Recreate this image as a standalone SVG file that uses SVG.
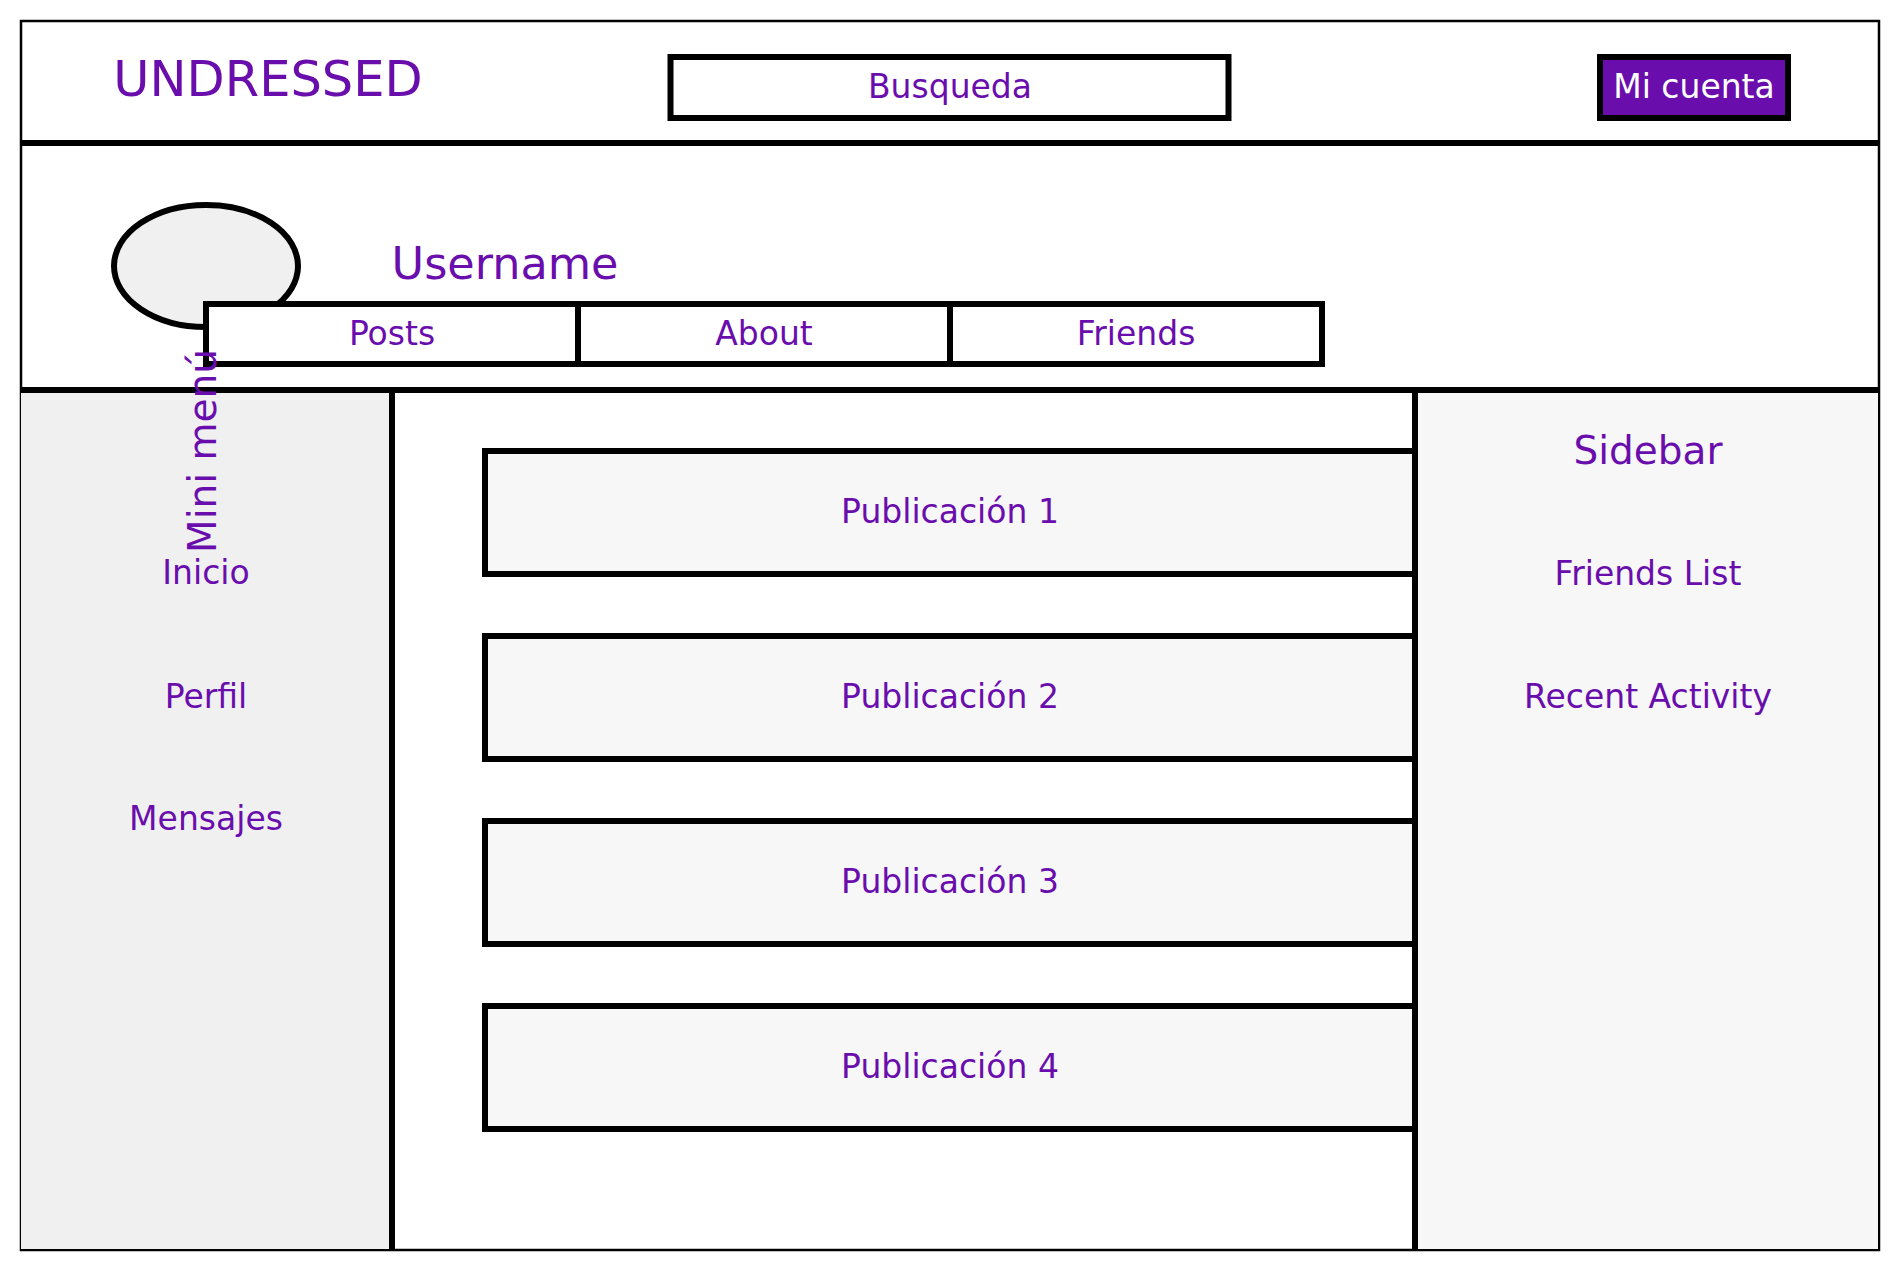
<svg xmlns="http://www.w3.org/2000/svg" width="1900" height="1272" viewBox="0 0 1900 1272">
<style>
  text { font-family: "DejaVu Sans", "Liberation Sans", sans-serif; fill: #6a0dad; text-anchor: middle; }
  .sm { font-size: 33px; }
  .box { stroke: #000; stroke-width: 6; }
  .line { stroke: #000; stroke-width: 6; fill: none; }
  .white { fill: #ffffff; }
  .grey { fill: #f0f0f0; }
  .light { fill: #f7f7f7; }
</style>
<rect x="0" y="0" width="1900" height="1272" fill="#ffffff"/>
<g id="page">
  <rect x="21" y="21" width="1858" height="1229" fill="#ffffff" stroke="#000" stroke-width="2.5"/>
</g>
<g id="left-panel">
  <rect x="21" y="390" width="371" height="859" class="grey"/>
</g>
<g id="right-panel">
  <rect x="1415" y="390" width="463" height="859" class="light"/>
</g>
<g id="connectors">
  <line x1="20" y1="143" x2="1880" y2="143" class="line"/>
  <line x1="20" y1="390" x2="1880" y2="390" class="line"/>
  <line x1="392" y1="390" x2="392" y2="1250" class="line"/>
  <line x1="1415" y1="390" x2="1415" y2="1250" class="line"/>
</g>
<g id="logo">
  <text x="268" y="96" style="font-size:49.5px">UNDRESSED</text>
</g>
<g id="busqueda">
  <rect x="670.5" y="57" width="558" height="61" class="box white"/>
  <text x="950" y="98" class="sm">Busqueda</text>
</g>
<g id="mi-cuenta">
  <rect x="1600" y="57" width="188" height="61" class="box" fill="#6a0dad"/>
  <text x="1694" y="98" class="sm" style="fill:#ffffff">Mi cuenta</text>
</g>
<g id="avatar">
  <ellipse cx="206" cy="266" rx="92" ry="61" class="box grey"/>
</g>
<g id="username">
  <text x="505" y="279" style="font-size:44.5px">Username</text>
</g>
<g id="tab-posts">
  <rect x="206" y="304" width="372" height="60" class="box white"/>
  <text x="392" y="345" class="sm">Posts</text>
</g>
<g id="tab-about">
  <rect x="578" y="304" width="372" height="60" class="box white"/>
  <text x="764" y="345" class="sm">About</text>
</g>
<g id="tab-friends">
  <rect x="950" y="304" width="372" height="60" class="box white"/>
  <text x="1136" y="345" class="sm">Friends</text>
</g>
<g id="mini-menu">
  <text transform="translate(216,451) rotate(-90)" style="font-size:39px">Mini menú</text>
  <text x="206" y="584" class="sm">Inicio</text>
  <text x="206" y="708" class="sm">Perfil</text>
  <text x="206" y="830" class="sm">Mensajes</text>
</g>
<g id="post-1">
  <rect x="485" y="451" width="930" height="123" class="box light"/>
  <text x="950" y="523" class="sm">Publicación 1</text>
</g>
<g id="post-2">
  <rect x="485" y="636" width="930" height="123" class="box light"/>
  <text x="950" y="708" class="sm">Publicación 2</text>
</g>
<g id="post-3">
  <rect x="485" y="821" width="930" height="123" class="box light"/>
  <text x="950" y="893" class="sm">Publicación 3</text>
</g>
<g id="post-4">
  <rect x="485" y="1006" width="930" height="123" class="box light"/>
  <text x="950" y="1078" class="sm">Publicación 4</text>
</g>
<g id="sidebar">
  <text x="1648" y="464" style="font-size:39px">Sidebar</text>
  <text x="1648" y="585" class="sm">Friends List</text>
  <text x="1648" y="708" class="sm">Recent Activity</text>
</g>
</svg>
